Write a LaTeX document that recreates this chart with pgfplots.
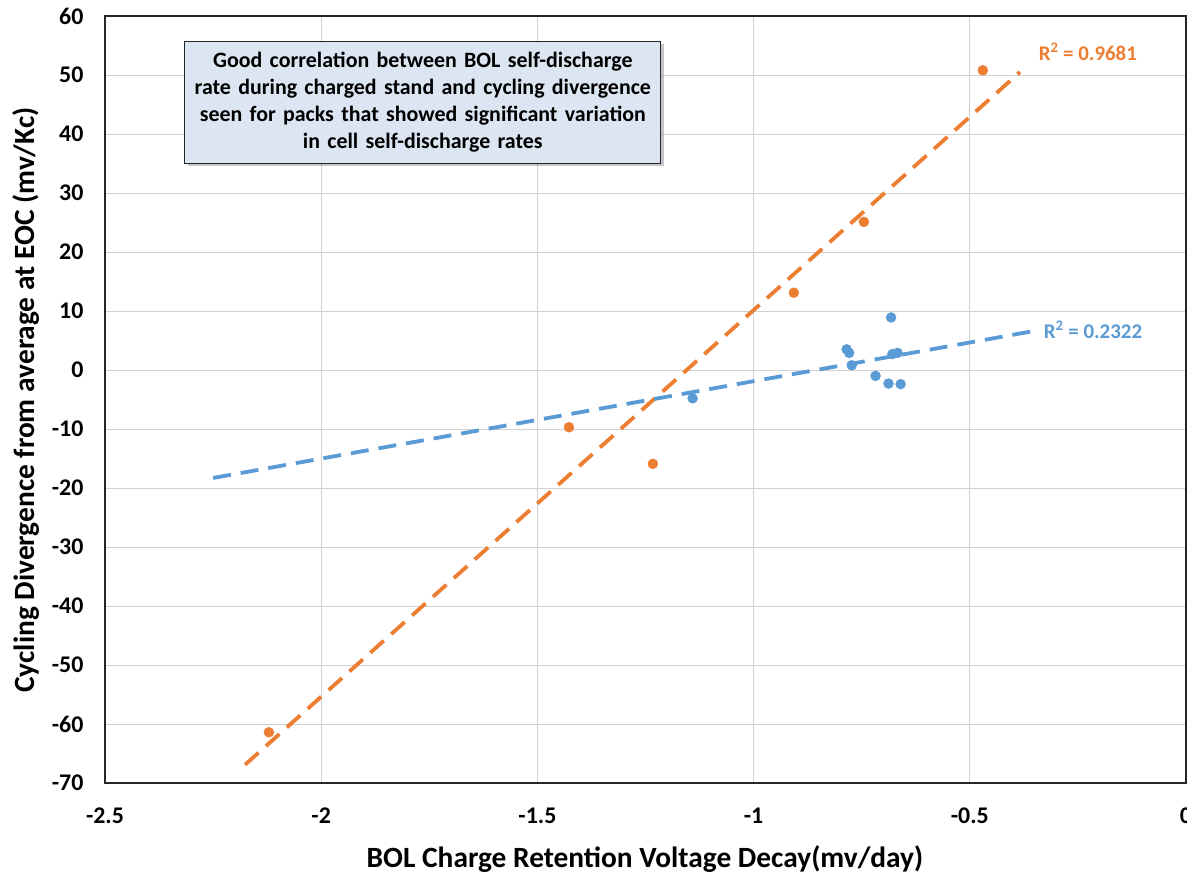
\documentclass[border=0pt]{standalone}
\usepackage{fontspec}
\setmainfont{Carlito}
\usepackage{pgfplots}
\pgfplotsset{compat=1.18}
\usetikzlibrary{shadows}
\definecolor{orng}{HTML}{ED7D31}
\definecolor{blu}{HTML}{5B9BD5}
\definecolor{boxfill}{HTML}{DCE6F2}
\begin{document}
\begin{tikzpicture}
\path[use as bounding box] (0,0) rectangle (1187bp,873bp);
\begin{axis}[
  at={(105bp,90bp)}, anchor=south west,
  scale only axis, width=1081bp, height=767bp,
  xmin=-2.5, xmax=0, ymin=-70, ymax=60,
  xtick={-2.5,-2,-1.5,-1,-0.5,0},
  ytick={-70,-60,-50,-40,-30,-20,-10,0,10,20,30,40,50,60},
  grid=major, major grid style={draw=black!18, line width=0.9bp},
  axis line style={draw=black!85, line width=1.8bp},
  tick style={draw=none},
  /pgf/number format/assume math mode=true,
  ticklabel style={font=\bfseries\fontsize{24}{28}\selectfont},
  yticklabel style={xshift=-18bp},
  xticklabel style={yshift=-21bp},
  clip=false,
]
\addplot[only marks, mark=*, mark size=5bp, orng, mark options={draw=none, fill=orng}] coordinates {
  (-0.47,50.8) (-0.745,25.1) (-0.907,13.1) (-1.427,-9.7) (-1.233,-15.9) (-2.121,-61.4)
};
\addplot[only marks, mark=*, mark size=5bp, blu, mark options={draw=none, fill=blu}] coordinates {
  (-0.682,8.9) (-0.785,3.5) (-0.779,2.9) (-0.773,0.8) (-0.679,2.7) (-0.667,2.9)
  (-0.718,-1.0) (-0.688,-2.3) (-0.660,-2.4) (-1.141,-4.8)
};
\addplot[orng, line width=3.8bp, dash pattern=on 18bp off 10bp] coordinates {(-2.176,-66.9) (-0.384,50.5)};
\addplot[blu, line width=3.8bp, dash pattern=on 18bp off 10bp] coordinates {(-2.25,-18.3) (-0.36,6.5)};
\node[font=\bfseries\fontsize{21}{25}\selectfont, text=orng] at (axis cs:-0.227,53.9) {R\textsuperscript{2} = 0.9681};
\node[font=\bfseries\fontsize{21}{25}\selectfont, text=blu] at (axis cs:-0.215,6.8) {R\textsuperscript{2} = 0.2322};
\node[draw=black!85, line width=1.2bp, fill=boxfill, drop shadow={shadow xshift=3bp, shadow yshift=-3bp, opacity=0.45},
      minimum width=476bp, minimum height=122bp, text width=470bp, align=center,
      font=\bfseries\fontsize{22}{27}\selectfont, inner sep=0pt]
  at (axis cs:-1.765,45.4) {Good correlation between BOL self-discharge\\ rate during charged stand and cycling divergence\\ seen for packs that showed significant variation\\ in cell self-discharge rates};
\end{axis}
\node[font=\bfseries\fontsize{29.5}{33}\selectfont, anchor=base] at (645bp,6bp) {BOL Charge Retention Voltage Decay(mv/day)};
\node[font=\bfseries\fontsize{29.5}{33}\selectfont, rotate=90, anchor=base] at (34bp,473bp) {Cycling Divergence from average at EOC (mv/Kc)};
\end{tikzpicture}
\end{document}
